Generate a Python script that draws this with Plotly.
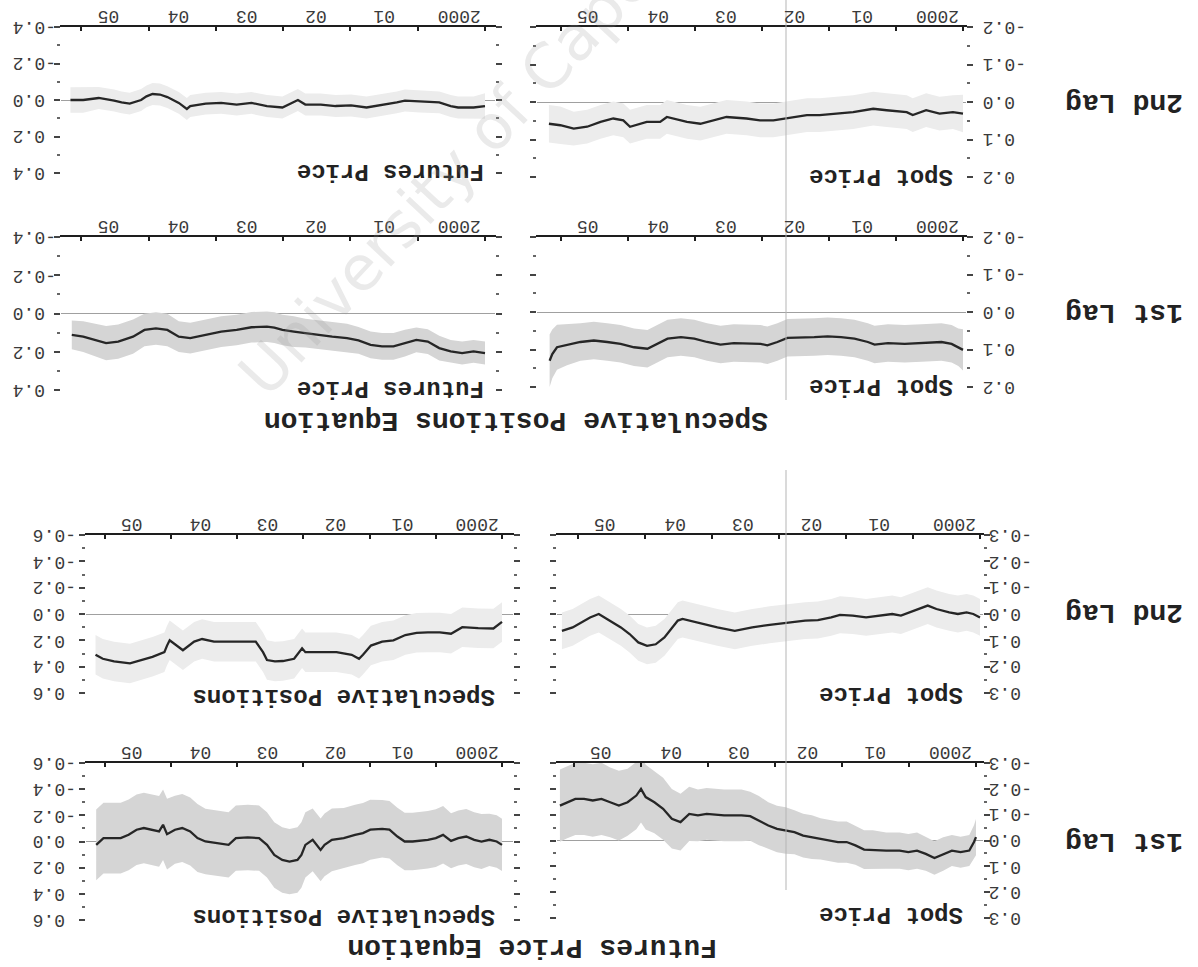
import plotly.graph_objects as go

W, H = 1198, 967

# ------------------------------------------------------------------
# DATA  (time-varying coefficients, decimal years; value; std. error)
# ------------------------------------------------------------------
# Speculative Positions Equation - 2nd Lag - Futures Price
sp2_fut_t = [2000.00, 2000.17, 2000.40, 2000.51, 2000.68, 2000.97, 2001.19, 2001.31, 2001.53, 2001.76,
             2001.99, 2002.22, 2002.44, 2002.67, 2002.78, 2003.01, 2003.24, 2003.47, 2003.69, 2003.92,
             2004.15, 2004.38, 2004.43, 2004.55, 2004.72, 2004.83, 2004.94, 2005.03, 2005.11, 2005.28,
             2005.40, 2005.51, 2005.74, 2005.97, 2006.16]
sp2_fut_v = [0.033, 0.041, 0.041, 0.033, 0.013, 0.008, 0.003, 0.013, 0.025, 0.041,
             0.030, 0.033, 0.025, 0.025, 0.000, 0.041, 0.033, 0.016, 0.025, 0.016,
             0.020, 0.033, 0.049, 0.016, -0.016, -0.030, -0.033, -0.020, 0.000, 0.020,
             0.013, 0.003, -0.011, 0.000, 0.000]
sp2_fut_se = [0.07, 0.06, 0.06, 0.06, 0.06, 0.06, 0.06, 0.06, 0.06, 0.06,
              0.06, 0.06, 0.06, 0.06, 0.06, 0.06, 0.06, 0.06, 0.06, 0.06,
              0.06, 0.06, 0.06, 0.06, 0.06, 0.06, 0.06, 0.06, 0.06, 0.06,
              0.06, 0.06, 0.06, 0.07, 0.07]

# Speculative Positions Equation - 2nd Lag - Spot Price
sp2_spot_t = [2000.00, 2000.15, 2000.35, 2000.55, 2000.75, 2000.84, 2001.14, 2001.34, 2001.64, 2001.89,
              2002.14, 2002.33, 2002.63, 2002.83, 2003.03, 2003.23, 2003.53, 2003.73, 2003.92, 2004.12,
              2004.32, 2004.42, 2004.52, 2004.72, 2004.97, 2005.07, 2005.22, 2005.41, 2005.61, 2005.81,
              2006.01, 2006.18]
sp2_spot_v = [0.031, 0.027, 0.031, 0.022, 0.035, 0.027, 0.022, 0.018, 0.027, 0.031,
              0.035, 0.035, 0.044, 0.049, 0.049, 0.044, 0.040, 0.049, 0.058, 0.053,
              0.044, 0.040, 0.053, 0.053, 0.066, 0.049, 0.044, 0.053, 0.066, 0.071,
              0.062, 0.058]
sp2_spot_se = [0.05, 0.045, 0.045, 0.045, 0.045, 0.045, 0.045, 0.045, 0.045, 0.045,
               0.045, 0.045, 0.045, 0.045, 0.045, 0.045, 0.045, 0.045, 0.045, 0.045,
               0.045, 0.045, 0.045, 0.045, 0.045, 0.045, 0.045, 0.045, 0.045, 0.045,
               0.05, 0.05]

# Speculative Positions Equation - 1st Lag - Futures Price
sp1_fut_t = [2000.00, 2000.17, 2000.34, 2000.51, 2000.68, 2000.85, 2001.02, 2001.19, 2001.36, 2001.53,
             2001.70, 2001.88, 2002.05, 2002.27, 2002.44, 2002.67, 2002.84, 2003.01, 2003.13, 2003.24,
             2003.47, 2003.69, 2003.92, 2004.15, 2004.38, 2004.55, 2004.72, 2004.89, 2005.06, 2005.23,
             2005.45, 2005.63, 2005.80, 2005.97, 2006.14]
sp1_fut_v = [0.207, 0.198, 0.207, 0.198, 0.181, 0.147, 0.138, 0.155, 0.172, 0.172,
             0.164, 0.141, 0.129, 0.121, 0.112, 0.103, 0.095, 0.086, 0.074, 0.069,
             0.072, 0.086, 0.095, 0.112, 0.129, 0.121, 0.086, 0.078, 0.086, 0.121,
             0.147, 0.155, 0.138, 0.121, 0.112]
sp1_fut_se = [0.06, 0.06, 0.06, 0.06, 0.065, 0.065, 0.065, 0.07, 0.07, 0.07,
              0.07, 0.07, 0.075, 0.075, 0.075, 0.075, 0.08, 0.08, 0.08, 0.08,
              0.08, 0.08, 0.08, 0.08, 0.08, 0.08, 0.085, 0.085, 0.085, 0.09,
              0.09, 0.09, 0.085, 0.08, 0.075]

# Speculative Positions Equation - 1st Lag - Spot Price
sp1_spot_t = [2000.00, 2000.07, 2000.17, 2000.32, 2000.62, 2000.87, 2001.12, 2001.32, 2001.42, 2001.62,
              2001.82, 2002.02, 2002.22, 2002.42, 2002.62, 2002.77, 2002.92, 2003.02, 2003.22, 2003.42,
              2003.62, 2003.82, 2004.01, 2004.21, 2004.41, 2004.61, 2004.71, 2004.91, 2005.11, 2005.31,
              2005.51, 2005.71, 2005.91, 2006.06, 2006.13, 2006.17]
sp1_spot_v = [0.101, 0.094, 0.085, 0.080, 0.083, 0.085, 0.083, 0.087, 0.080, 0.071,
              0.067, 0.065, 0.067, 0.067, 0.069, 0.080, 0.089, 0.085, 0.085, 0.083,
              0.087, 0.080, 0.071, 0.067, 0.071, 0.089, 0.098, 0.094, 0.085, 0.080,
              0.076, 0.080, 0.087, 0.094, 0.112, 0.130]
sp1_spot_se = [0.055, 0.05, 0.05, 0.05, 0.05, 0.05, 0.05, 0.05, 0.05, 0.05,
               0.05, 0.05, 0.05, 0.05, 0.05, 0.05, 0.05, 0.05, 0.05, 0.05,
               0.05, 0.05, 0.05, 0.05, 0.05, 0.05, 0.05, 0.05, 0.05, 0.05,
               0.05, 0.05, 0.055, 0.06, 0.065, 0.07]

# Futures Price Equation - 2nd Lag - Speculative Positions
fp2_spec_t = [2000.00, 2000.13, 2000.36, 2000.60, 2000.77, 2000.94, 2001.12, 2001.29, 2001.46, 2001.64,
              2001.81, 2001.98, 2002.10, 2002.16, 2002.27, 2002.50, 2002.73, 2002.97, 2003.02, 2003.14,
              2003.31, 2003.43, 2003.55, 2003.61, 2003.72, 2003.90, 2004.12, 2004.35, 2004.53, 2004.65,
              2004.82, 2005.02, 2005.06, 2005.10, 2005.28, 2005.45, 2005.62, 2005.86, 2006.03, 2006.14]
fp2_spec_v = [0.060, 0.110, 0.108, 0.100, 0.150, 0.140, 0.140, 0.143, 0.160, 0.200,
              0.210, 0.240, 0.310, 0.340, 0.310, 0.290, 0.290, 0.290, 0.260, 0.340,
              0.357, 0.360, 0.350, 0.290, 0.210, 0.210, 0.210, 0.210, 0.190, 0.210,
              0.275, 0.200, 0.240, 0.290, 0.325, 0.350, 0.375, 0.360, 0.340, 0.310]
fp2_spec_se = [0.15, 0.15, 0.15, 0.15, 0.15, 0.15, 0.15, 0.15, 0.15, 0.15,
               0.15, 0.15, 0.15, 0.15, 0.15, 0.15, 0.15, 0.15, 0.15, 0.15,
               0.15, 0.15, 0.15, 0.15, 0.15, 0.15, 0.15, 0.15, 0.15, 0.15,
               0.15, 0.15, 0.15, 0.15, 0.15, 0.15, 0.15, 0.15, 0.15, 0.15]

# Futures Price Equation - 2nd Lag - Spot Price
fp2_spot_t = [2000.00, 2000.10, 2000.20, 2000.33, 2000.46, 2000.65, 2000.78, 2000.92, 2001.05, 2001.18,
              2001.31, 2001.50, 2001.70, 2001.90, 2002.09, 2002.22, 2002.42, 2002.61, 2002.88, 2003.14,
              2003.40, 2003.66, 2003.92, 2004.12, 2004.31, 2004.44, 2004.51, 2004.64, 2004.71, 2004.84,
              2004.97, 2005.10, 2005.23, 2005.36, 2005.49, 2005.62, 2005.69, 2005.82, 2005.95, 2006.08,
              2006.24]
fp2_spot_v = [0.013, 0.000, -0.006, 0.000, -0.006, -0.019, -0.032, -0.019, -0.006, 0.006,
              0.000, 0.006, 0.013, 0.006, 0.003, 0.013, 0.023, 0.025, 0.032, 0.041,
              0.051, 0.064, 0.051, 0.038, 0.025, 0.019, 0.025, 0.064, 0.089, 0.115,
              0.121, 0.108, 0.076, 0.051, 0.032, 0.013, 0.000, 0.013, 0.032, 0.051,
              0.064]
fp2_spot_se = [0.07, 0.07, 0.07, 0.07, 0.07, 0.07, 0.07, 0.07, 0.07, 0.07,
               0.07, 0.07, 0.07, 0.07, 0.07, 0.07, 0.07, 0.07, 0.07, 0.07,
               0.07, 0.07, 0.07, 0.07, 0.07, 0.07, 0.07, 0.07, 0.07, 0.07,
               0.07, 0.07, 0.07, 0.07, 0.07, 0.07, 0.07, 0.07, 0.07, 0.07,
               0.07]

# Futures Price Equation - 1st Lag - Speculative Positions
fp1_spec_t = [2000.00, 2000.08, 2000.19, 2000.31, 2000.42, 2000.54, 2000.66, 2000.77, 2000.89,
              2001.00, 2001.12, 2001.35, 2001.47, 2001.58, 2001.70, 2001.81, 2001.99,
              2002.10, 2002.22, 2002.39, 2002.57, 2002.68, 2002.74, 2002.80, 2002.86, 2002.97,
              2003.03, 2003.09, 2003.21, 2003.32, 2003.44, 2003.55, 2003.67, 2003.84,
              2004.02, 2004.13, 2004.31, 2004.48, 2004.60, 2004.71, 2004.83, 2004.94,
              2005.06, 2005.12, 2005.18, 2005.29, 2005.41, 2005.52, 2005.64, 2005.76, 2005.93,
              2006.02, 2006.13]
fp1_spec_v = [0.026, 0.000, -0.013, 0.000, -0.013, -0.038, -0.026, -0.005, -0.051,
              -0.026, -0.013, 0.000, 0.000, -0.038, -0.090, -0.097, -0.090,
              -0.064, -0.051, -0.026, -0.013, 0.026, 0.064, 0.026, -0.013, 0.026,
              0.103, 0.141, 0.154, 0.141, 0.103, 0.026, -0.026, -0.031,
              -0.026, 0.026, 0.013, 0.000, -0.026, -0.077, -0.103, -0.090,
              -0.056, -0.128, -0.077, -0.090, -0.103, -0.090, -0.051, -0.026, -0.026,
              -0.026, 0.026]
fp1_spec_se = [0.20, 0.20, 0.20, 0.21, 0.21, 0.21, 0.21, 0.21, 0.22,
               0.22, 0.22, 0.22, 0.22, 0.22, 0.22, 0.22, 0.23,
               0.23, 0.23, 0.23, 0.24, 0.24, 0.24, 0.24, 0.24, 0.25,
               0.25, 0.25, 0.25, 0.25, 0.25, 0.25, 0.25, 0.25,
               0.25, 0.25, 0.25, 0.25, 0.26, 0.26, 0.26, 0.26,
               0.27, 0.27, 0.27, 0.27, 0.27, 0.27, 0.27, 0.27, 0.27,
               0.27, 0.27]

# Futures Price Equation - 1st Lag - Spot Price
fp1_spot_t = [2000.00, 2000.03, 2000.10, 2000.23, 2000.36, 2000.49, 2000.62, 2000.75, 2000.88,
              2001.01, 2001.14, 2001.34, 2001.54, 2001.67, 2001.80, 2001.93,
              2002.06, 2002.32, 2002.45, 2002.58, 2002.71, 2002.84, 2002.97,
              2003.10, 2003.24, 2003.37, 2003.50, 2003.76,
              2004.02, 2004.15, 2004.28, 2004.41, 2004.54, 2004.67, 2004.80, 2004.93,
              2005.00, 2005.07, 2005.20, 2005.33, 2005.46, 2005.59, 2005.72, 2005.85, 2005.98,
              2006.11, 2006.21]
fp1_spot_v = [-0.013, 0.006, 0.039, 0.045, 0.039, 0.052, 0.068, 0.052, 0.039,
              0.045, 0.039, 0.039, 0.035, 0.035, 0.019, 0.006,
              0.006, -0.006, -0.013, -0.019, -0.032, -0.039, -0.045,
              -0.058, -0.077, -0.094, -0.097, -0.097,
              -0.103, -0.097, -0.103, -0.071, -0.084, -0.123, -0.148, -0.168,
              -0.200, -0.174, -0.148, -0.135, -0.148, -0.161, -0.155, -0.161, -0.161,
              -0.148, -0.135]
fp1_spot_se = [0.07, 0.065, 0.06, 0.06, 0.06, 0.065, 0.065, 0.065, 0.07,
               0.07, 0.07, 0.07, 0.075, 0.075, 0.075, 0.08,
               0.08, 0.08, 0.085, 0.085, 0.085, 0.09, 0.09,
               0.09, 0.095, 0.095, 0.10, 0.10,
               0.10, 0.10, 0.105, 0.11, 0.115, 0.12, 0.12, 0.125,
               0.13, 0.13, 0.13, 0.135, 0.135, 0.14, 0.14, 0.14, 0.14,
               0.14, 0.14]

# axis labels
year_ticks = [2000, 2001, 2002, 2003, 2004, 2005, 2006]
year_labels = ["2000", "01", "02", "03", "04", "05"]
row_labels = ["2nd Lag", "1st Lag", "2nd Lag", "1st Lag"]
section_titles = ["Speculative Positions Equation", "Futures Price Equation"]

# ------------------------------------------------------------------
# STYLE / LAYOUT (the scanned page is shown rotated by 180 degrees)
# ------------------------------------------------------------------
MONO = "Liberation Mono"
LINE = "#262626"
FAINT = "#ececec"
BAND = "#d5d5d5"
TICKFONT = dict(family=MONO, size=18, color="#3a3a3a")
LABEL_OFFSET = [0.38, 0.50, 0.52, 0.54, 0.56, 0.60]   # year-label position inside each year

panels = [
    dict(t=sp2_fut_t, v=sp2_fut_v, se=sp2_fut_se, xd=(61, 495), yd=(27, 173), t2000=485, px=67.3,
         lim=0.4, step=0.2, lx=12, band=FAINT, title="Futures Price", tx=486, ty=172),
    dict(t=sp2_spot_t, v=sp2_spot_v, se=sp2_spot_se, xd=(537, 966), yd=(27, 177), t2000=963, px=67.0,
         lim=0.2, step=0.1, lx=982, band=FAINT, title="Spot Price", tx=955, ty=177),
    dict(t=sp1_fut_t, v=sp1_fut_v, se=sp1_fut_se, xd=(61, 495), yd=(237, 390), t2000=485, px=67.3,
         lim=0.4, step=0.2, lx=12, band=BAND, title="Futures Price", tx=486, ty=389),
    dict(t=sp1_spot_t, v=sp1_spot_v, se=sp1_spot_se, xd=(537, 966), yd=(237, 387), t2000=963, px=67.0,
         lim=0.2, step=0.1, lx=982, band=BAND, title="Spot Price", tx=955, ty=387),
    dict(t=fp2_spec_t, v=fp2_spec_v, se=fp2_spec_se, xd=(86, 513), yd=(535, 693), t2000=502, px=66.2,
         lim=0.6, step=0.2, lx=32, band=FAINT, title="Speculative Positions", tx=497, ty=697),
    dict(t=fp2_spot_t, v=fp2_spot_v, se=fp2_spot_se, xd=(557, 983), yd=(535, 693), t2000=980, px=67.0,
         lim=0.3, step=0.1, lx=988, band=FAINT, title="Spot Price", tx=965, ty=695),
    dict(t=fp1_spec_t, v=fp1_spec_v, se=fp1_spec_se, xd=(86, 513), yd=(763, 920), t2000=502, px=66.2,
         lim=0.6, step=0.2, lx=32, band=BAND, title="Speculative Positions", tx=497, ty=917),
    dict(t=fp1_spot_t, v=fp1_spot_v, se=fp1_spot_se, xd=(557, 983), yd=(763, 918), t2000=976, px=67.0,
         lim=0.3, step=0.1, lx=988, band=BAND, title="Spot Price", tx=965, ty=915),
]


def fx(p):
    return p / W


def fy(p):
    return 1 - p / H


def fmt(v):
    s = f"{abs(v):.1f}"
    return ("-" + s) if v < -1e-9 else s


fig = go.Figure()
layout = {}
annotations = []

for i, p in enumerate(panels, start=1):
    sfx = "" if i == 1 else str(i)
    xn, yn = "x" + sfx, "y" + sfx
    up = [a + b for a, b in zip(p["v"], p["se"])]
    lo = [a - b for a, b in zip(p["v"], p["se"])]
    fig.add_trace(go.Scatter(x=p["t"], y=up, mode="lines", line=dict(width=0, color=p["band"]),
                             xaxis=xn, yaxis=yn, showlegend=False, hoverinfo="skip"))
    fig.add_trace(go.Scatter(x=p["t"], y=lo, mode="lines", line=dict(width=0, color=p["band"]),
                             fill="tonexty", fillcolor=p["band"],
                             xaxis=xn, yaxis=yn, showlegend=False, hoverinfo="skip"))
    fig.add_trace(go.Scatter(x=p["t"], y=p["v"], mode="lines", line=dict(width=2.3, color=LINE),
                             xaxis=xn, yaxis=yn, showlegend=False))

    a, b = p["xd"]
    x_left = 2000 + (p["t2000"] - a) / p["px"]
    x_right = 2000 + (p["t2000"] - b) / p["px"]
    side = "left" if p["lx"] < a else "right"

    layout["xaxis" + sfx] = dict(
        domain=[fx(a), fx(b)], range=[x_left, x_right], anchor=yn, side="top",
        showline=True, linecolor="#1e1e1e", linewidth=2, showgrid=False, zeroline=False,
        tickmode="array", tickvals=year_ticks, ticks="inside", ticklen=4, tickwidth=2,
        tickcolor="#1e1e1e", showticklabels=False, fixedrange=True,
    )
    lim, step = p["lim"], p["step"]
    n = int(round(lim / step))
    yt = [round(k * step, 2) for k in range(-n, n + 1)]
    layout["yaxis" + sfx] = dict(
        domain=[fy(p["yd"][1]), fy(p["yd"][0])], range=[lim, -lim], anchor=xn, side=side,
        showline=True, linecolor="rgba(0,0,0,0)", mirror="ticks", showgrid=False,
        zeroline=True, zerolinecolor="#a0a0a0", zerolinewidth=1,
        tickmode="array", tickvals=yt, ticks="outside", ticklen=6, tickwidth=1.5, tickcolor="#444",
        showticklabels=False,
        minor=dict(dtick=step / 2, ticks="outside", ticklen=3, tickcolor="#666"),
        fixedrange=True,
    )
    # year labels (upside down, above the axis line)
    for k, lab in enumerate(year_labels):
        annotations.append(dict(
            x=year_ticks[k] + LABEL_OFFSET[k], xref=xn, y=1, yref=yn + " domain",
            text=lab, showarrow=False, textangle=180, xanchor="center", yanchor="bottom",
            yshift=0, borderpad=0, font=TICKFONT))
    # value labels (upside down, outside the panel)
    for v in yt:
        annotations.append(dict(
            x=fx(p["lx"]), xref="paper", y=v, yref=yn, text=fmt(v), showarrow=False,
            textangle=180, xanchor="left", yanchor="middle", borderpad=0, font=TICKFONT))
    annotations.append(dict(
        x=fx(p["tx"]), y=fy(p["ty"]), xref="paper", yref="paper", text=f"<b>{p['title']}</b>",
        showarrow=False, textangle=180, xanchor="right", yanchor="middle",
        font=dict(family=MONO, size=24, color="#222")))

# row labels (right side)
for lab, yy in zip(row_labels, [103, 313, 613, 842]):
    annotations.append(dict(x=fx(1124), y=fy(yy), xref="paper", yref="paper", text=f"<b>{lab}</b>",
                            showarrow=False, textangle=180, xanchor="center", yanchor="middle",
                            font=dict(family=MONO, size=28, color="#222")))

# section titles
for ttl, xx, yy in zip(section_titles, [516, 532], [421, 948]):
    annotations.append(dict(x=fx(xx), y=fy(yy), xref="paper", yref="paper", text=f"<b>{ttl}</b>",
                            showarrow=False, textangle=180, xanchor="center", yanchor="middle",
                            font=dict(family=MONO, size=28, color="#222")))

# faint watermark (runs off the top edge, as in the scan)
annotations.append(dict(x=fx(505), y=fy(112), xref="paper", yref="paper", text="University of Cape Town",
                        showarrow=False, textangle=-47, xanchor="center", yanchor="middle",
                        font=dict(family="DejaVu Sans", size=62, color="rgba(150,150,150,0.2)")))

shapes = [
    dict(type="line", xref="paper", yref="paper", x0=fx(786), x1=fx(786), y0=fy(0), y1=fy(400),
         line=dict(color="#b5b5b5", width=1)),
    dict(type="line", xref="paper", yref="paper", x0=fx(786), x1=fx(786), y0=fy(470), y1=fy(890),
         line=dict(color="#b5b5b5", width=1)),
]

fig.update_layout(
    width=W, height=H, margin=dict(l=0, r=0, t=0, b=0),
    paper_bgcolor="white", plot_bgcolor="white",
    annotations=annotations, shapes=shapes, showlegend=False,
    **layout,
)

# remove the default 8px page margin so the figure fills the window exactly
fig.write_html("out.html", config={"displayModeBar": False},
               post_script="document.body.style.margin='0';")
